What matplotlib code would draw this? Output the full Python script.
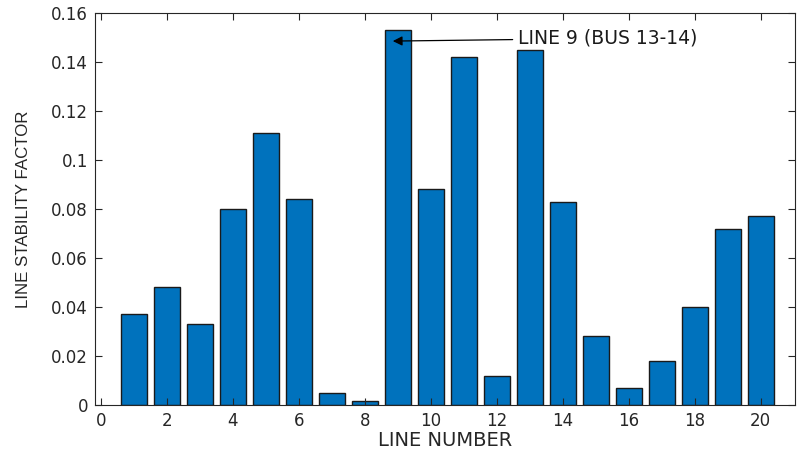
import matplotlib.pyplot as plt
import numpy as np

plt.rcParams['font.family'] = ['DejaVu Sans']

# Data
line_no = np.arange(1, 21)
lsf = [0.037, 0.048, 0.033, 0.080, 0.111, 0.084, 0.005, 0.0015, 0.153, 0.088,
       0.142, 0.012, 0.145, 0.083, 0.028, 0.007, 0.018, 0.040, 0.072, 0.077]
xticks = np.arange(0, 21, 2)
yticks = [0, 0.02, 0.04, 0.06, 0.08, 0.1, 0.12, 0.14, 0.16]
ytick_labels = ["0", "0.02", "0.04", "0.06", "0.08", "0.1", "0.12", "0.14", "0.16"]

fig = plt.figure(figsize=(7.97, 4.54), dpi=100)
ax = fig.add_axes([0.119, 0.108, 0.879, 0.863])

ax.bar(line_no, lsf, width=0.8, color="#0072BD", edgecolor="#1a1a1a", linewidth=1.0)

ax.set_xlim(-0.18, 21.05)
ax.set_ylim(0, 0.16)
ax.set_xticks(xticks)
ax.set_yticks(yticks)
ax.set_yticklabels(ytick_labels)
ax.tick_params(direction="in", top=True, right=True, length=5, width=0.8,
               labelsize=12, colors="#262626", pad=5)
for s in ax.spines.values():
    s.set_color("#262626")
    s.set_linewidth(0.8)

ax.set_xlabel("LINE NUMBER", fontsize=14, color="#262626", labelpad=1)
ax.set_ylabel("LINE STABILITY FACTOR", fontsize=12.2, color="#262626",
              family="Liberation Sans", labelpad=14)

ax.annotate("LINE 9 (BUS 13-14)", xy=(8.85, 0.1486), xytext=(12.65, 0.1497),
            fontsize=13.5, color="#1a1a1a", va="center",
            arrowprops=dict(arrowstyle="-|>", color="black", lw=0.9,
                            mutation_scale=14, shrinkA=2, shrinkB=0))

fig.savefig("out.png", dpi=100)
